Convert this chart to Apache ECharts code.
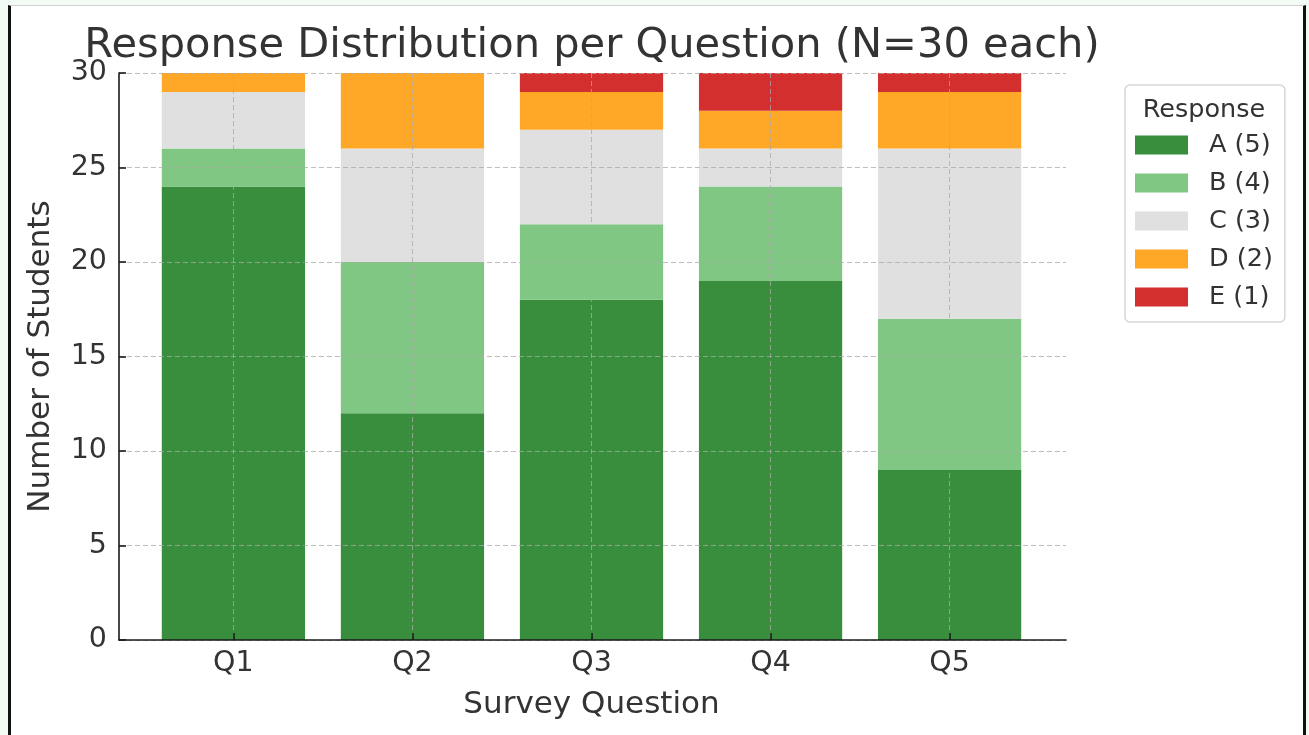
<!DOCTYPE html>
<html>
<head>
<meta charset="utf-8">
<script src="https://cdn.jsdelivr.net/npm/echarts@6/dist/echarts.min.js"></script>
<style>
  html, body { margin: 0; padding: 0; width: 1309px; height: 735px; overflow: hidden; background: #f3fcf4; }
  #frame { position: absolute; left: 8px; top: 5px; width: 1292px; height: 740px; background: #ffffff;
           border-left: 3px solid #111; border-right: 3px solid #111; border-top: 1px solid #cfcfcf; }
  #chart { position: absolute; left: 0; top: 0; width: 1309px; height: 735px; }
</style>
</head>
<body>
<div id="frame"></div>
<div id="chart"></div>
<script>
// Survey questions and the count of students choosing each response (N = 30 per question)
const categories = ['Q1', 'Q2', 'Q3', 'Q4', 'Q5'];
const responseA = [24, 12, 18, 19, 9];
const responseB = [2, 8, 4, 5, 8];
const responseC = [3, 6, 5, 2, 9];
const responseD = [1, 4, 2, 2, 3];
const responseE = [0, 0, 1, 2, 1];
const seriesNames = ['A (5)', 'B (4)', 'C (3)', 'D (2)', 'E (1)'];
const seriesColors = ['#388e3c', '#81c784', '#e0e0e0', '#ffa726', '#d32f2f'];
const yMin = 0, yMax = 30, yStep = 5;

const FONT = 'DejaVu Sans';
const TEXT = '#333333';
const gridDash = { color: 'rgba(170,170,170,0.75)', width: 1, type: [5, 3] };

const chart = echarts.init(document.getElementById('chart'), null, { renderer: 'canvas' });

const values = [responseA, responseB, responseC, responseD, responseE];
const series = values.map((vals, i) => ({
  name: seriesNames[i],
  type: 'bar',
  stack: 'total',
  xAxisIndex: 1,
  yAxisIndex: 1,
  barWidth: '80%',
  clip: false,
  itemStyle: { color: seriesColors[i] },
  emphasis: { disabled: true },
  data: vals
}));

chart.setOption({
  animation: false,
  textStyle: { fontFamily: FONT },
  title: [
    {
      text: 'Response Distribution per Question (N=30 each)',
      left: 587, top: 20, textAlign: 'center',
      textStyle: { fontFamily: FONT, fontSize: 41.6, fontWeight: 'normal', color: TEXT }
    },
    {
      text: 'Response',
      left: 1199, top: 92, textAlign: 'center',
      textStyle: { fontFamily: FONT, fontSize: 25.5, fontWeight: 'normal', color: TEXT }
    }
  ],
  legend: {
    orient: 'vertical',
    left: 1125, top: 85,
    padding: [47, 12, 12, 10],
    itemWidth: 53, itemHeight: 19, itemGap: 12,
    icon: 'rect',
    borderColor: '#d6d6d6', borderWidth: 1.5, borderRadius: 5,
    backgroundColor: '#ffffff',
    selectedMode: false,
    textStyle: { fontFamily: FONT, fontSize: 25.5, color: TEXT, padding: [0, 0, 0, 16] },
    data: seriesNames
  },
  grid: [
    { left: 119, top: 73, width: 947, height: 567 },
    { left: 233.4, top: 73, width: 716.2, height: 567 }
  ],
  xAxis: [
    {
      // full-width frame axis: only its baseline is drawn
      type: 'value', gridIndex: 0, min: 0, max: 1, z: 5,
      axisLine: { show: true, onZero: false, lineStyle: { color: '#1a1a1a', width: 1.6 } },
      axisTick: { show: false }, axisLabel: { show: false }, splitLine: { show: false }
    },
    {
      type: 'category', gridIndex: 1, data: categories, boundaryGap: false, z: 5,
      name: 'Survey Question', nameLocation: 'middle', nameGap: 49,
      nameTextStyle: { fontFamily: FONT, fontSize: 31, color: TEXT },
      axisLine: { show: false },
      axisTick: { show: true, inside: true, length: 7, lineStyle: { color: '#1a1a1a', width: 1.6 } },
      axisLabel: { fontFamily: FONT, fontSize: 28.5, color: TEXT, margin: 9 },
      splitLine: { show: true, lineStyle: gridDash }
    }
  ],
  yAxis: [
    {
      type: 'value', gridIndex: 0, min: yMin, max: yMax, interval: yStep, z: 5,
      name: 'Number of Students', nameLocation: 'middle', nameGap: 63,
      nameTextStyle: { fontFamily: FONT, fontSize: 31, color: TEXT },
      axisLine: { show: true, onZero: false, lineStyle: { color: '#1a1a1a', width: 1.6 } },
      axisTick: { show: true, inside: true, length: 7, lineStyle: { color: '#1a1a1a', width: 1.6 } },
      axisLabel: { fontFamily: FONT, fontSize: 28.5, color: TEXT, margin: 12, padding: [5, 0, 0, 0] },
      splitLine: { show: true, lineStyle: gridDash }
    },
    {
      type: 'value', gridIndex: 1, min: yMin, max: yMax, interval: yStep, show: false
    }
  ],
  series: series
});
</script>
</body>
</html>
